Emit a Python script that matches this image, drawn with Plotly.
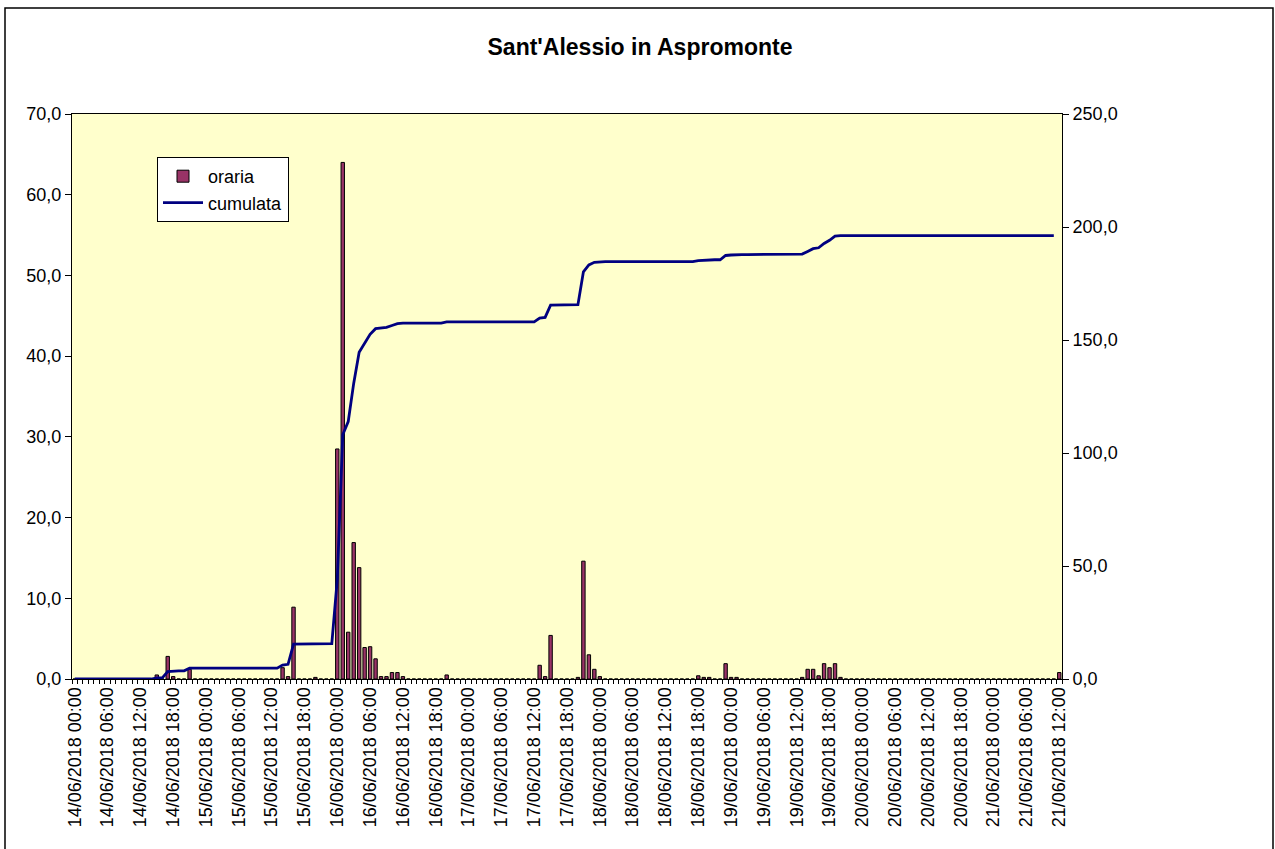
import numpy as np
import plotly.graph_objects as go

title_text = "Sant'Alessio in Aspromonte"
day_labels = ["14/06/2018", "15/06/2018", "16/06/2018", "17/06/2018",
              "18/06/2018", "19/06/2018", "20/06/2018", "21/06/2018"]
hour_labels = ["00:00", "06:00", "12:00", "18:00"]

# hourly rainfall (mm), one value per hour from 14/06/2018 00:00 to 21/06/2018 12:00
oraria = [
    # 14/06 00-23
    0, 0, 0, 0, 0, 0, 0, 0, 0, 0, 0, 0, 0, 0, 0, 0.5, 0, 2.8, 0.3, 0, 0, 1.2, 0, 0,
    # 15/06 00-23
    0, 0, 0, 0, 0, 0, 0, 0, 0, 0, 0, 0, 0, 0, 1.4, 0.3, 8.9, 0, 0, 0, 0.2, 0, 0, 0,
    # 16/06 00-23
    28.5, 64.0, 5.8, 16.9, 13.8, 3.9, 4.0, 2.5, 0.3, 0.3, 0.8, 0.8, 0.3, 0, 0, 0, 0, 0, 0, 0, 0.5, 0, 0, 0,
    # 17/06 00-23
    0, 0, 0, 0, 0, 0, 0, 0, 0, 0, 0, 0, 0, 1.7, 0.3, 5.4, 0, 0, 0, 0, 0.2, 14.6, 3.0, 1.2,
    # 18/06 00-23
    0.3, 0, 0, 0, 0, 0, 0, 0, 0, 0, 0, 0, 0, 0, 0, 0, 0, 0, 0.4, 0.2, 0.2, 0, 0, 1.9,
    # 19/06 00-23
    0.2, 0.2, 0, 0, 0, 0, 0, 0, 0, 0, 0, 0, 0, 0.2, 1.2, 1.2, 0.4, 1.9, 1.4, 1.9, 0.2, 0, 0, 0,
    # 20/06 00-23
    0, 0, 0, 0, 0, 0, 0, 0, 0, 0, 0, 0, 0, 0, 0, 0, 0, 0, 0, 0, 0, 0, 0, 0,
    # 21/06 00-12
    0, 0, 0, 0, 0, 0, 0, 0, 0, 0, 0, 0, 0.8,
]
# cumulative line is drawn for the hours up to 21/06 11:00
n_cum = 180

hours = np.arange(len(oraria))
cumulata = np.cumsum(oraria)[:n_cum]

tick_pos = list(range(0, len(oraria), 6))
tick_text = [f"{d} {h}" for d in day_labels for h in hour_labels][:len(tick_pos)]

bg = "#FFFFCC"
font_family = "Liberation Sans, Arial, sans-serif"

fig = go.Figure()
fig.add_trace(go.Bar(
    x=hours, y=oraria, name="oraria",
    marker=dict(color="#993366", line=dict(color="black", width=1)),
    xaxis="x", yaxis="y",
))
fig.add_trace(go.Scatter(
    x=hours[:n_cum], y=cumulata, name="cumulata", mode="lines",
    line=dict(color="#000080", width=2.8),
    xaxis="x2", yaxis="y2",
))

xr = [-0.5, len(oraria) - 0.5]
fig.update_layout(
    width=1275, height=849,
    margin=dict(l=72, r=213, t=114, b=170, autoexpand=False),
    paper_bgcolor="white", plot_bgcolor=bg,
    separators=", ",
    font=dict(family=font_family, size=18, color="black"),
    title=dict(text="<b>" + title_text + "</b>", x=640 / 1275, xanchor="center",
               y=1 - 47 / 849, yanchor="middle", yref="container",
               font=dict(size=23, family=font_family)),
    bargap=0.38,
    showlegend=True,
    legend=dict(x=(157 - 72) / 990, y=(679 - 157) / 565, xanchor="left", yanchor="top",
                bgcolor="white", bordercolor="black", borderwidth=1,
                font=dict(size=18), tracegroupgap=0, itemwidth=40),
    xaxis=dict(range=xr, tickmode="array", tickvals=tick_pos, ticktext=tick_text,
               tickangle=-90, ticks="", showgrid=False, zeroline=False, automargin=False,
               showline=True, linecolor="black", linewidth=1, mirror=True,
               minor=dict(ticks="outside", ticklen=4, tickcolor="black",
                          tick0=-0.5, dtick=1, showgrid=False),
               tickfont=dict(size=18)),
    xaxis2=dict(range=xr, overlaying="x", anchor="y", side="bottom", automargin=False,
                showticklabels=False, ticks="", showgrid=False, zeroline=False,
                showline=False, tickmode="linear", tick0=-0.5, dtick=1,
                minor=dict(ticks="inside", ticklen=4, tickcolor="black",
                           tick0=-0.5, dtick=1, showgrid=False)),
    yaxis=dict(range=[0, 70], dtick=10, tickformat=".1f", showgrid=False, automargin=False,
               zeroline=False, showline=True, linecolor="black", linewidth=1,
               ticks="outside", ticklen=6, tickcolor="black", tickfont=dict(size=18)),
    yaxis2=dict(range=[0, 250], dtick=50, tickformat=".1f", overlaying="y", automargin=False,
                side="right", anchor="x", showgrid=False, zeroline=False,
                showline=True, linecolor="black", linewidth=1,
                ticks="outside", ticklen=6, tickcolor="black", tickfont=dict(size=18)),
    shapes=[dict(type="rect", xref="paper", yref="paper",
                 x0=(5 - 72) / 990, x1=(1273 - 72) / 990,
                 y0=(679 - 860) / 565, y1=(679 - 8) / 565,
                 line=dict(color="black", width=1.5), fillcolor="rgba(0,0,0,0)",
                 layer="below")],
)

fig.write_html("out.html",
               config={"displayModeBar": False},
               post_script="document.body.style.margin='0';document.body.style.overflow='hidden';")
